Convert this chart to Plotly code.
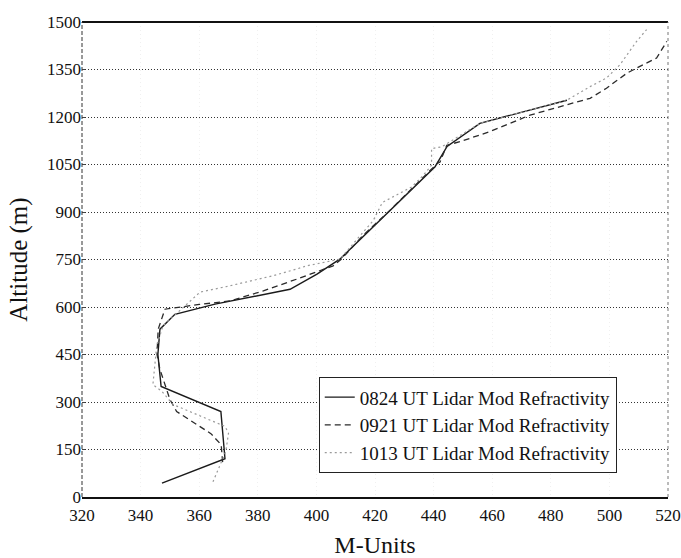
import plotly.graph_objects as go

# Series 0824 UT (solid)
m_0824 = [347.3, 368.8, 367.4, 347.0, 345.9, 346.6, 351.7, 365.4, 391.0, 400.2, 408.0, 425.1, 440.5, 444.6, 455.8, 485.5]
alt_0824 = [44, 121, 270, 349, 450, 530, 577, 609, 656, 704, 751, 904, 1043, 1107, 1180, 1253]

# Series 0921 UT (dashed)
m_0921 = [368.0, 367.5, 364.0, 352.3, 350.0, 346.6, 345.6, 346.0, 348.3, 360.0, 370.5, 381.9, 393.3, 400.1, 405.7,
          408.6, 415.9, 425.1, 441.2, 442.2, 444.5, 449.0, 459.2, 472.9, 485.4, 493.4, 499.0, 505.9, 510.4, 516.1, 519.6]
alt_0921 = [110, 165, 200, 270, 308, 403, 450, 530, 593, 608, 619, 651, 688, 710, 730,
            752, 826, 905, 1053, 1058, 1111, 1122, 1154, 1206, 1238, 1259, 1291, 1338, 1360, 1386, 1439]

# Series 1013 UT (dotted)
m_1013 = [364.7, 369.1, 370.0, 368.8, 351.1, 347.2, 344.2, 345.5, 347.6, 351.0, 360.3, 370.5, 385.3, 393.3, 396.7,
          408.0, 419.4, 422.5, 432.5, 436.5, 439.3, 439.3, 442.8, 455.8, 485.5, 493.4, 499.0, 503.6, 509.3, 512.7]
alt_1013 = [48, 144, 202, 223, 292, 334, 355, 477, 540, 568, 647, 667, 699, 720, 730,
            751, 873, 930, 979, 1016, 1048, 1100, 1106, 1180, 1253, 1296, 1323, 1365, 1439, 1476]

x_ticks = [320, 340, 360, 380, 400, 420, 440, 460, 480, 500, 520]
y_ticks = [0, 150, 300, 450, 600, 750, 900, 1050, 1200, 1350, 1500]

FONT = "Liberation Serif"

fig = go.Figure()
fig.add_trace(go.Scatter(x=m_0824, y=alt_0824, mode="lines", name="0824 UT Lidar Mod Refractivity",
                         line=dict(color="#1a1a1a", width=1.4, dash="solid")))
fig.add_trace(go.Scatter(x=m_0921, y=alt_0921, mode="lines", name="0921 UT Lidar Mod Refractivity",
                         line=dict(color="#2a2a2a", width=1.3, dash="6px,4px")))
fig.add_trace(go.Scatter(x=m_1013, y=alt_1013, mode="lines", name="1013 UT Lidar Mod Refractivity",
                         line=dict(color="#9a9a9a", width=1.2, dash="2px,3px")))

fig.update_layout(
    width=681, height=558,
    margin=dict(l=82, r=13, t=22, b=61),
    paper_bgcolor="white", plot_bgcolor="white",
    font=dict(family=FONT, size=17, color="#111"),
    showlegend=True,
    legend=dict(x=0.404, y=0.252, xanchor="left", yanchor="top",
                bgcolor="white", bordercolor="#222", borderwidth=1,
                font=dict(family=FONT, size=19, color="#111"),
                tracegroupgap=0, itemwidth=30),
    xaxis=dict(range=[320, 520], tickvals=x_ticks, ticktext=[str(v) for v in x_ticks],
               automargin=False,
               showgrid=True, gridcolor="rgba(0,0,0,0.06)", griddash="1px,3px", gridwidth=1,
               showline=True, linecolor="#111", linewidth=2, zeroline=False,
               ticks="", ticklabelstandoff=2, tickfont=dict(family=FONT, size=17),
               title=dict(text="M-Units", font=dict(family=FONT, size=24), standoff=14)),
    yaxis=dict(range=[0, 1500], tickvals=y_ticks, ticktext=[str(v) for v in y_ticks],
               automargin=False,
               showgrid=True, gridcolor="#333", griddash="1px,2px", gridwidth=1,
               showline=False, zeroline=False,
               ticks="inside", ticklen=3, tickcolor="#444",
               tickfont=dict(family=FONT, size=17),
               title=dict(text="Altitude (m)", font=dict(family=FONT, size=25), standoff=12)),
    shapes=[
        dict(type="line", xref="paper", yref="paper", x0=0, x1=1, y0=1, y1=1,
             line=dict(color="#111", width=2)),
        dict(type="line", xref="paper", yref="paper", x0=0, x1=0, y0=0, y1=1,
             line=dict(color="#333", width=1, dash="4px,2px")),
        dict(type="line", xref="paper", yref="paper", x0=1, x1=1, y0=0, y1=1,
             line=dict(color="#777", width=1, dash="dot")),
    ],
)

fig.write_html("out.html")
